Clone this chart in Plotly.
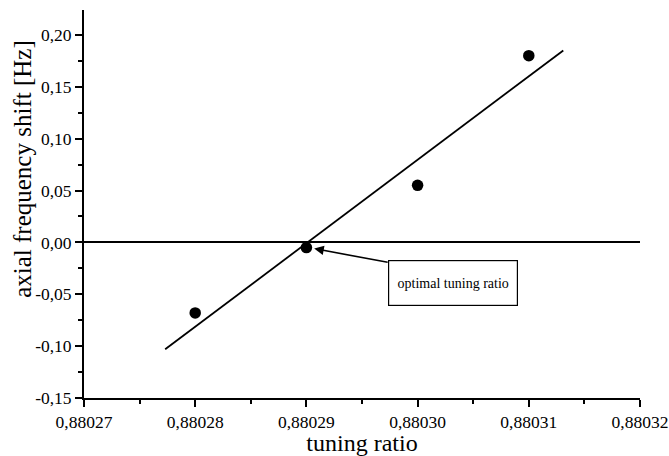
import plotly.graph_objects as go

# data
tuning_ratio = [0.88028, 0.88029, 0.88030, 0.88031]
freq_shift = [-0.068, -0.005, 0.055, 0.180]
fit_x = [0.8802773, 0.8803131]
fit_y = [-0.1030, 0.1850]

x_tickvals = [0.88027, 0.88028, 0.88029, 0.88030, 0.88031, 0.88032]
x_ticktext = ["0,88027", "0,88028", "0,88029", "0,88030", "0,88031", "0,88032"]
y_tickvals = [-0.15, -0.10, -0.05, 0.00, 0.05, 0.10, 0.15, 0.20]
y_ticktext = ["-0,15", "-0,10", "-0,05", "0,00", "0,05", "0,10", "0,15", "0,20"]

font_family = "Liberation Serif"

fig = go.Figure()
fig.add_trace(go.Scatter(x=fit_x, y=fit_y, mode="lines",
                         line=dict(color="black", width=1.8), showlegend=False))
fig.add_trace(go.Scatter(x=tuning_ratio, y=freq_shift, mode="markers",
                         marker=dict(color="black", size=11.5), showlegend=False))

fig.update_layout(
    width=669, height=456,
    margin=dict(l=84, r=29, t=10, b=58),
    plot_bgcolor="white", paper_bgcolor="white",
    font=dict(family=font_family, color="black", size=17),
    xaxis=dict(
        range=[0.88027, 0.88032], automargin=False,
        tickvals=x_tickvals, ticktext=x_ticktext,
        ticks="outside", ticklen=7, tickwidth=1.5, tickcolor="black",
        minor=dict(ticks="outside", ticklen=4, tickwidth=1.5, tickcolor="black", dtick=0.000005),
        showline=True, linecolor="black", linewidth=1.8,
        showgrid=False, zeroline=False,
        title=dict(text="tuning ratio", font=dict(size=24), standoff=4),
        tickfont=dict(size=17.5),
    ),
    yaxis=dict(
        range=[-0.15, 0.224], automargin=False,
        tickvals=y_tickvals, ticktext=y_ticktext,
        ticks="outside", ticklen=7, tickwidth=1.5, tickcolor="black",
        minor=dict(ticks="outside", ticklen=4, tickwidth=1.5, tickcolor="black", dtick=0.025, tick0=0),
        showline=True, linecolor="black", linewidth=1.8,
        showgrid=False, zeroline=True, zerolinecolor="black", zerolinewidth=1.8,
        tickfont=dict(size=17.5),
    ),
)

# y-axis title (placed as in the original, slightly above centre)
fig.add_annotation(text="axial frequency shift [Hz]", textangle=-90,
                   xref="paper", yref="paper", x=-0.112, y=0.59,
                   xanchor="center", yanchor="middle", showarrow=False,
                   font=dict(size=25, family=font_family, color="black"))

# arrow
fig.add_annotation(x=0.8802907, y=-0.006, xref="x", yref="y", text="",
                   showarrow=True, arrowhead=2, arrowsize=1.2, arrowwidth=1.6,
                   arrowcolor="black", ax=75, ay=14)
# label box
fig.add_annotation(x=0.8803032, y=-0.0396, xref="x", yref="y",
                   text="optimal tuning ratio", showarrow=False,
                   font=dict(size=14, family=font_family),
                   bordercolor="black", borderwidth=1.2, borderpad=0,
                   width=128, height=44, bgcolor="white")

fig.write_html("out.html")
